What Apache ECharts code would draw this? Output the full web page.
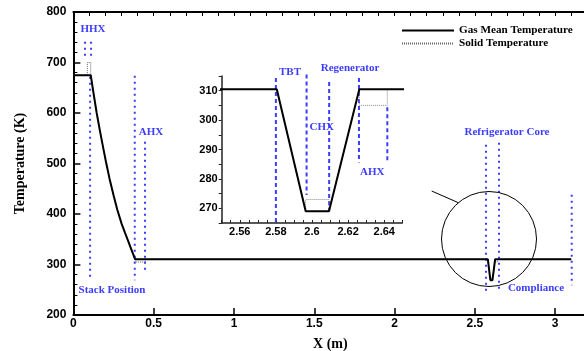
<!DOCTYPE html>
<html>
<head>
<meta charset="utf-8">
<script src="https://cdn.jsdelivr.net/npm/echarts@6/dist/echarts.min.js"></script>
<style>
  html, body { margin: 0; padding: 0; background: #fff; }
  #chart { width: 584px; height: 351px; }
</style>
</head>
<body>
<div id="chart"></div>
<script>
// Axial temperature profile along the thermoacoustic device (x in m, T in K)
const gasX = [0, 0.108, 0.125, 0.145, 0.165, 0.185, 0.203, 0.225, 0.25, 0.273, 0.3, 0.321, 0.343, 0.363, 0.384,
              2.5805, 2.5965, 2.6094, 2.6262, 3.1];
const gasT = [675, 675, 640, 600, 565, 532, 503, 470, 437, 409, 381, 363, 345, 328, 310.5,
              310.5, 269, 269, 310.5, 310.5];

const solidX = [0, 0.087, 0.087, 0.108, 0.108, 0.125, 0.145, 0.165, 0.185, 0.203, 0.225, 0.25, 0.273, 0.3, 0.321, 0.343, 0.363, 0.384,
                0.384, 0.449, 0.449, 2.5805, 2.5965, 2.5965, 2.6094, 2.6094, 2.6262, 2.6262, 2.6417, 2.6417, 3.1];
const solidT = [675, 675, 700, 700, 675, 640, 600, 565, 532, 503, 470, 437, 409, 381, 363, 345, 328, 310.5,
                305, 305, 310.5, 310.5, 269, 273, 273, 269, 310.5, 305, 305, 310.5, 310.5];

// Component boundary markers on the main axes: position, top and bottom of each dotted segment
const mainMarkX   = [0.072, 0.110, 0.104, 0.382, 0.446, 2.569, 2.650, 3.103];
const mainMarkTop = [741, 741, 672, 674, 543, 537, 541, 438];
const mainMarkBot = [712, 712, 268, 269, 289, 244, 250, 259];

// Component boundary markers on the zoomed axes
const insetMarkX   = [2.58, 2.597, 2.6095, 2.626, 2.6417];
const insetMarkTop = [314.3, 315.5, 313, 314.3, 304.4];
const insetMarkBot = [265.2, 274.5, 269.3, 285.6, 285.6];

// Tick labels
const insetXLabels = [2.56, 2.58, 2.6, 2.62, 2.64];
const insetYLabels = [270, 280, 290, 300, 310];

const SERIF = '"Liberation Serif", "Times New Roman", serif';
const SANS = '"Liberation Sans", Arial, sans-serif';
const BLUE = '#3c3cff';

function pairs(xs, ys) { return xs.map((x, i) => [x, ys[i]]); }
function segments(xs, tops, bots) {
  const out = [];
  xs.forEach((x, i) => { out.push([x, tops[i]], [x, bots[i]], [x, '-']); });
  return out;
}
function range(a, b, step) {
  const out = [];
  for (let k = 0; a + k * step <= b + 1e-9; k++) out.push(+(a + k * step).toFixed(4));
  return out;
}

const chart = echarts.init(document.getElementById('chart'), null, { renderer: 'canvas' });

const axisFont = { color: '#000', fontFamily: SANS, fontWeight: 'bold' };

const option = {
  animation: false,
  backgroundColor: '#fff',
  grid: [
    { left: 73.4, top: 12, width: 513.9, height: 303, outerBoundsMode: 'none', containLabel: false },
    { left: 221.7, top: 76, width: 180.6, height: 147, outerBoundsMode: 'none', containLabel: false }
  ],
  legend: {
    data: ['Gas Mean Temperature', 'Solid Temperature'],
    orient: 'vertical',
    left: 396,
    top: 20,
    itemWidth: 52,
    itemHeight: 10,
    itemGap: 2,
    itemStyle: { opacity: 0 },
    textStyle: { color: '#000', fontFamily: SERIF, fontWeight: 'bold', fontSize: 11.2 }
  },
  xAxis: [
    {
      gridIndex: 0, type: 'value', min: 0, max: 3.2, interval: 0.5,
      name: 'X (m)', nameLocation: 'middle', nameGap: 22,
      nameTextStyle: { color: '#000', fontFamily: SERIF, fontWeight: 'bold', fontSize: 14 },
      axisLine: { onZero: false, lineStyle: { color: '#000', width: 2 } },
      axisTick: { inside: true, length: 7, lineStyle: { color: '#000', width: 1.5 } },
      axisLabel: Object.assign({ fontSize: 12, margin: 3, showMaxLabel: false }, axisFont),
      splitLine: { show: false }
    },
    {
      // minor ticks every 0.1 m
      gridIndex: 0, type: 'value', min: 0, max: 3.2, interval: 0.1,
      axisLine: { show: false },
      axisTick: { inside: true, length: 4, lineStyle: { color: '#000', width: 1 } },
      axisLabel: { show: false }, splitLine: { show: false }
    },
    {
      // frame line along the top of the main plot
      gridIndex: 0, type: 'value', min: 0, max: 3.2, position: 'top',
      axisLine: { onZero: false, lineStyle: { color: '#000', width: 2 } },
      axisTick: { show: false }, axisLabel: { show: false }, splitLine: { show: false }
    },
    {
      gridIndex: 1, type: 'value', min: 2.55, max: 2.65,
      axisLine: { onZero: false, lineStyle: { color: '#222', width: 1.5 } },
      axisTick: { inside: true, length: 3, customValues: range(2.55, 2.65, 0.005), lineStyle: { color: '#222' } },
      axisLabel: Object.assign({ fontSize: 11, margin: 3, customValues: insetXLabels, formatter: v => String(+v.toFixed(2)) }, axisFont),
      splitLine: { show: false }
    }
  ],
  yAxis: [
    {
      gridIndex: 0, type: 'value', min: 200, max: 800, interval: 100,
      name: 'Temperature (K)', nameLocation: 'middle', nameGap: 46,
      nameTextStyle: { color: '#000', fontFamily: SERIF, fontWeight: 'bold', fontSize: 14 },
      axisLine: { onZero: false, lineStyle: { color: '#000', width: 2 } },
      axisTick: { inside: true, length: 7, lineStyle: { color: '#000', width: 1.5 } },
      minorTick: { show: true, splitNumber: 5, length: 4, lineStyle: { color: '#000', width: 1 } },
      axisLabel: Object.assign({ fontSize: 12, margin: 7 }, axisFont),
      splitLine: { show: false }
    },
    {
      gridIndex: 1, type: 'value', min: 265, max: 315,
      axisLine: { onZero: false, lineStyle: { color: '#222', width: 1.5 } },
      axisTick: { inside: false, length: 3, customValues: range(265, 315, 5), lineStyle: { color: '#222' } },
      axisLabel: Object.assign({ fontSize: 11, margin: 4, customValues: insetYLabels }, axisFont),
      splitLine: { show: false }
    }
  ],
  series: [
    {
      name: 'Component Markers', type: 'line', xAxisIndex: 0, yAxisIndex: 0,
      data: segments(mainMarkX, mainMarkTop, mainMarkBot), symbol: 'none', connectNulls: false,
      lineStyle: { color: BLUE, width: 2, type: [2, 4] }, z: 1, silent: true
    },
    {
      name: 'Solid Temperature', type: 'line', xAxisIndex: 0, yAxisIndex: 0,
      data: pairs(solidX, solidT), symbol: 'none',
      itemStyle: { color: '#666' },
      lineStyle: { color: '#666', width: 1, type: [1, 1] }, z: 2
    },
    {
      name: 'Gas Mean Temperature', type: 'line', xAxisIndex: 0, yAxisIndex: 0,
      data: pairs(gasX, gasT), symbol: 'none',
      itemStyle: { color: '#000' },
      lineStyle: { color: '#000', width: 2 }, z: 3
    },
    {
      name: 'Inset Markers', type: 'line', xAxisIndex: 3, yAxisIndex: 1,
      data: segments(insetMarkX, insetMarkTop, insetMarkBot), symbol: 'none', connectNulls: false,
      lineStyle: { color: BLUE, width: 2, type: [4, 3] }, z: 1, silent: true, clip: false
    },
    {
      name: 'Solid Temperature', type: 'line', xAxisIndex: 3, yAxisIndex: 1,
      data: pairs(solidX, solidT), symbol: 'none',
      itemStyle: { color: '#666' },
      lineStyle: { color: '#888', width: 1, type: [1, 1] }, z: 2
    },
    {
      name: 'Gas Mean Temperature', type: 'line', xAxisIndex: 3, yAxisIndex: 1,
      data: pairs(gasX, gasT), symbol: 'none',
      itemStyle: { color: '#000' },
      lineStyle: { color: '#000', width: 2 }, z: 3
    }
  ]
};

chart.setOption(option);

// Text annotations and the magnifier callout
const labelStyle = (text, x, y) => ({
  type: 'text', x: x, y: y, z: 10,
  style: { text: text, fill: BLUE, font: 'bold 11px ' + SERIF, textAlign: 'center', textVerticalAlign: 'middle' }
});

chart.setOption({
  graphic: [
    labelStyle('HHX', 93, 29),
    labelStyle('AHX', 151, 132),
    labelStyle('Stack Position', 112, 290),
    labelStyle('Refrigerator Core', 507, 132),
    labelStyle('Compliance', 536, 288),
    labelStyle('TBT', 290, 72),
    labelStyle('Regenerator', 350, 68),
    labelStyle('CHX', 321.7, 127.3),
    labelStyle('AHX', 372.3, 171.7),
    { type: 'circle', shape: { cx: 489, cy: 239, r: 47.5 }, style: { fill: 'none', stroke: '#000', lineWidth: 1 }, z: 10 },
    { type: 'line', shape: { x1: 431.7, y1: 191, x2: 458.3, y2: 202.7 }, style: { stroke: '#000', lineWidth: 1 }, z: 10 }
  ]
});
</script>
</body>
</html>
